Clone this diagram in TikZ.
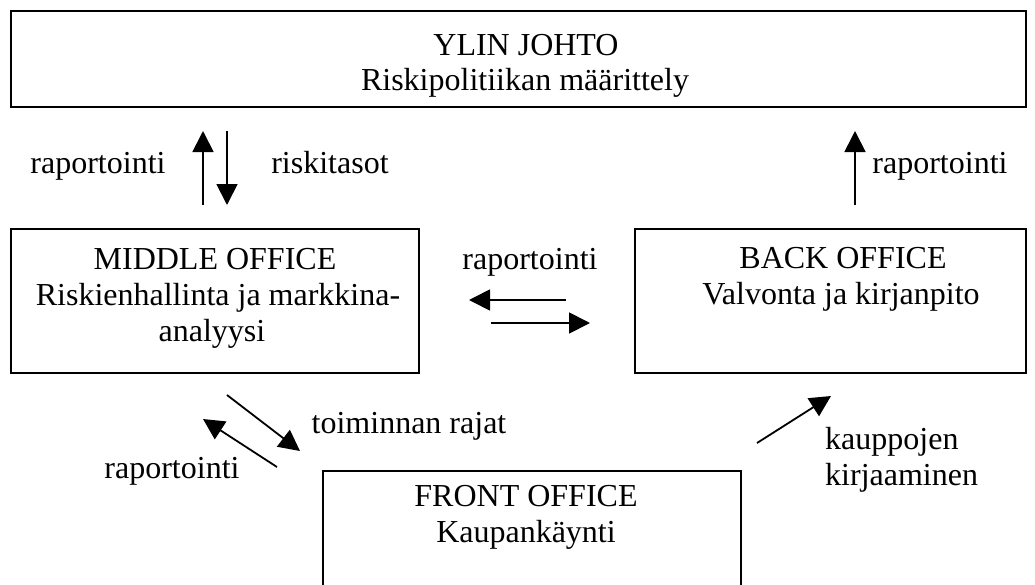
\documentclass[tikz,border=0pt]{standalone}
\usepackage{fontspec}
\setmainfont{Liberation Serif}
\usetikzlibrary{arrows.meta}
\begin{document}
\begin{tikzpicture}[x=1pt,y=-1pt,
  box/.style={draw,line width=1.6pt,inner sep=0pt,anchor=north west},
  txt/.style={font=\fontsize{32}{36}\selectfont,inner sep=0pt,anchor=base},
  ltxt/.style={txt,anchor=base west},
  arr/.style={line width=1.8pt,-{Triangle[length=21pt,width=21pt]}}]
\useasboundingbox (0,0) rectangle (1035,584);
% boxes
\node[box,minimum width=1015pt,minimum height=96pt] (top) at (10,10) {};
\node[box,minimum width=408pt,minimum height=144pt] (mid) at (10,228) {};
\node[box,minimum width=391pt,minimum height=144pt] (back) at (634,228) {};
\node[box,minimum width=418pt,minimum height=120pt] (front) at (322,470) {};
% box texts
\node[txt] (top1) at (526,55) {YLIN JOHTO};
\node[txt] (top2) at (525,90) {Riskipolitiikan määrittely};
\node[txt] (mid1) at (215,269) {MIDDLE OFFICE};
\node[txt] (mid2) at (218,305) {Riskienhallinta ja markkina-};
\node[txt] (mid3) at (212,341) {analyysi};
\node[txt] (back1) at (843,268) {BACK OFFICE};
\node[txt] (back2) at (841,304) {Valvonta ja kirjanpito};
\node[txt] (front1) at (526,506) {FRONT OFFICE};
\node[txt] (front2) at (526,542) {Kaupankäynti};
% labels
\node[txt] (l1) at (98,173) {raportointi};
\node[txt] (l2) at (330,173) {riskitasot};
\node[txt] (l3) at (940,173) {raportointi};
\node[txt] (l4) at (530,269) {raportointi};
\node[txt] (l5) at (409,433) {toiminnan rajat};
\node[txt] (l6) at (172,478) {raportointi};
\node[ltxt] (l7) at (825,449) {kauppojen};
\node[ltxt] (l8) at (825,485) {kirjaaminen};
% arrow end points
\coordinate (a1s) at (203,205); \coordinate (a1e) at (203,131);
\coordinate (a2s) at (227,131); \coordinate (a2e) at (227,205);
\coordinate (a3s) at (855,205); \coordinate (a3e) at (855,131);
\coordinate (a4s) at (566,300); \coordinate (a4e) at (469,300);
\coordinate (a5s) at (491,323); \coordinate (a5e) at (590,323);
\coordinate (a6s) at (227,395); \coordinate (a6e) at (300,451);
\coordinate (a7s) at (277,467); \coordinate (a7e) at (203,419);
\coordinate (a8s) at (757,443); \coordinate (a8e) at (831,396);
\draw[arr] (a1s) -- (a1e);
\draw[arr] (a2s) -- (a2e);
\draw[arr] (a3s) -- (a3e);
\draw[arr] (a4s) -- (a4e);
\draw[arr] (a5s) -- (a5e);
\draw[arr] (a6s) -- (a6e);
\draw[arr] (a7s) -- (a7e);
\draw[arr] (a8s) -- (a8e);
\end{tikzpicture}
\end{document}
